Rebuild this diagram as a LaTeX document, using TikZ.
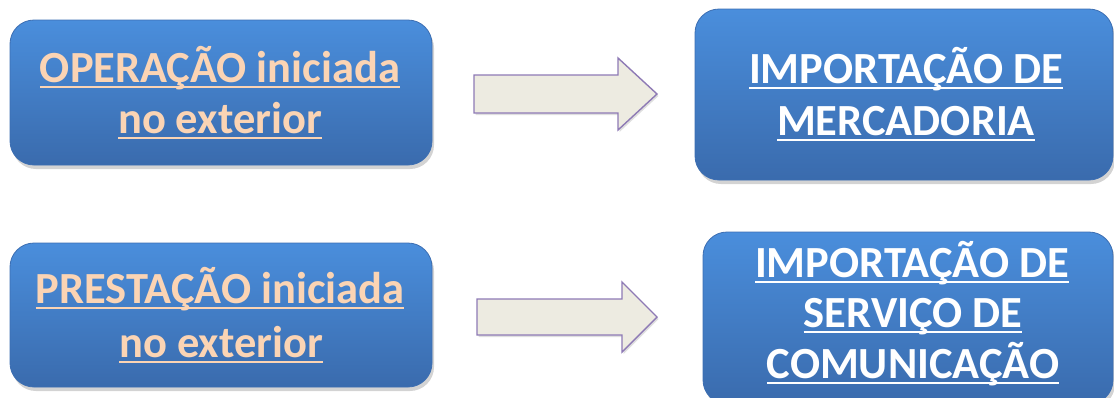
\documentclass[tikz,border=0pt]{standalone}
\usepackage{fontspec}
\setmainfont{Carlito}
\usetikzlibrary{shadows}
\definecolor{peach}{HTML}{FBD4B4}
\definecolor{boxtop}{HTML}{4A8EDC}
\definecolor{boxbot}{HTML}{3A6BAD}
\definecolor{boxline}{HTML}{3C6EB2}
\definecolor{arrfill}{HTML}{EDEBE1}
\definecolor{arrline}{HTML}{8E7AB5}
\newcommand\ulx[1]{\setbox0\hbox{#1}\rlap{\rule[-6pt]{\wd0}{1.7pt}}\box0}
\tikzset{
  bluebox/.style={draw=boxline, line width=0.8pt, rounded corners=24pt, top color=boxtop, bottom color=boxbot, drop shadow={opacity=0.35, shadow xshift=2pt, shadow yshift=-4pt}, inner sep=0pt},
  ltxt/.style={anchor=base, inner sep=0pt, font=\fontsize{44.5}{50}\selectfont\bfseries},
  peachtxt/.style={ltxt, text=peach},
  whitetxt/.style={ltxt, text=white},
  blockarrow/.style={draw=arrline, line width=1.4pt, fill=arrfill, line join=miter, drop shadow={opacity=0.25, shadow xshift=1.5pt, shadow yshift=-2pt}}
}
\begin{document}
\begin{tikzpicture}[x=1pt,y=-1pt]
\useasboundingbox (0,0) rectangle (1114,397);
\clip (0,0) rectangle (1114,397);
% boxes
\node[bluebox, minimum width=422pt, minimum height=145pt] (b1) at (221,92.5) {};
\node[bluebox, minimum width=418pt, minimum height=171pt] (b2) at (904,94.5) {};
\node[bluebox, minimum width=422pt, minimum height=144pt] (b3) at (221,315) {};
\node[bluebox, minimum width=410pt, minimum height=172pt] (b4) at (908,318) {};
% texts
\node[peachtxt] (t1a) at (220,82) {\ulx{OPERAÇÃO iniciada}};
\node[peachtxt] (t1b) at (220,133) {\ulx{no exterior}};
\node[whitetxt] (t2a) at (906,83) {\ulx{IMPORTAÇÃO DE}};
\node[whitetxt] (t2b) at (906,135) {\ulx{MERCADORIA}};
\node[peachtxt] (t3a) at (220,303) {\ulx{PRESTAÇÃO iniciada}};
\node[peachtxt] (t3b) at (221,357) {\ulx{no exterior}};
\node[whitetxt] (t4a) at (912,277) {\ulx{IMPORTAÇÃO DE}};
\node[whitetxt] (t4b) at (913,327) {\ulx{SERVIÇO DE}};
\node[whitetxt] (t4c) at (913,378) {\ulx{COMUNICAÇÃO}};
% arrows
\draw[blockarrow] (474,75) -- (618,75) -- (618,58) -- (657,94) -- (618,130) -- (618,113) -- (474,113) -- cycle;
\draw[blockarrow] (477,299) -- (622,299) -- (622,282) -- (657,317) -- (622,352) -- (622,335) -- (477,335) -- cycle;
\end{tikzpicture}
\end{document}
